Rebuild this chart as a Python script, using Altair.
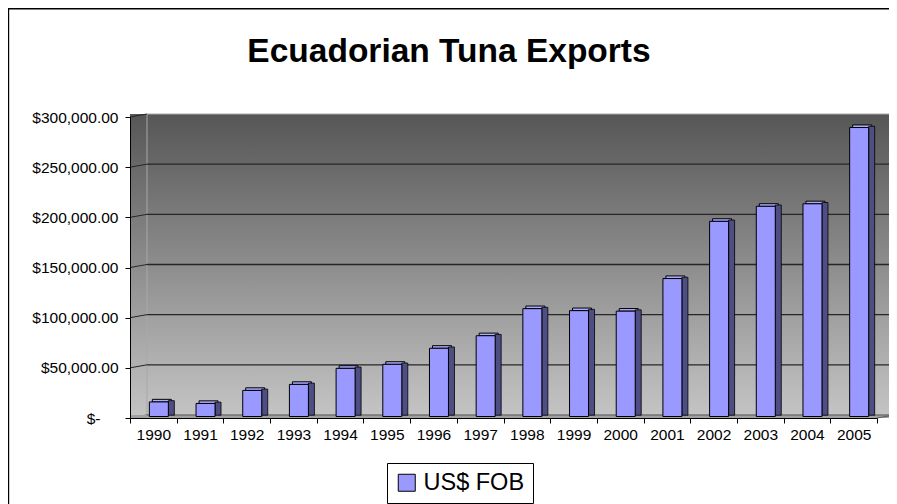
import altair as alt
import pandas as pd

# ---- data ----
years = [str(y) for y in range(1990, 2006)]
exports = [14500, 13000, 26000, 32000, 48000, 52000, 68000, 80500,
           107500, 105500, 105000, 137500, 194500, 209500, 212000, 288000]
series_name = "US$ FOB"
tick_values = [0, 50000, 100000, 150000, 200000, 250000, 300000]
grid_values = [50000, 100000, 150000, 200000, 250000]
title_text = "Ecuadorian Tuna Exports"

FONT = "Liberation Sans"
W, H = 747, 301          # front plot area
DX, DY = 17, 3           # 3-D depth offset (px)
PAD = {"left": 122, "top": 109, "right": 12, "bottom": 86}

df = pd.DataFrame({"year": years, "value": exports, "series": series_name})
df["capTop"] = df["value"] + 2600
tick_df = pd.DataFrame({"v": tick_values})
grid_df = pd.DataFrame({"v": grid_values})
one = pd.DataFrame({"k": [0]})

yscale = alt.Scale(domain=[0, 300000], nice=False, zero=True)
xscale = alt.Scale(domain=years, paddingInner=0, paddingOuter=0)

xaxis = alt.Axis(tickBand="extent", labelAngle=0, tickSize=5, labelPadding=4,
                 labelFontSize=15.5, labelFont=FONT, labelColor="black",
                 domainColor="black", tickColor="black", title=None, grid=False, zindex=1)
yaxis = alt.Axis(values=tick_values,
                 labelExpr="datum.value == 0 ? '$-' : '$' + format(datum.value, ',.2f')",
                 tickSize=5,
                 labelPadding={"condition": {"test": "datum.value === 0", "value": 25}, "value": 7},
                 labelFontSize=15.5, labelFont=FONT,
                 labelColor="black", domainColor="black", tickColor="black",
                 title=None, grid=False, zindex=1)

grad = alt.LinearGradient(
    gradient="linear",
    stops=[alt.GradientStop(color="#565656", offset=0),
           alt.GradientStop(color="#c4c4c4", offset=1)],
    x1=0, x2=0, y1=0, y2=1,
)

# outer chart frame (top & left edges visible in the reference)
frame_top = alt.Chart(one).mark_rule(color="black", strokeWidth=1.5).encode(
    x=alt.value(-PAD["left"]), x2=alt.value(W + PAD["right"]), y=alt.value(-108.2))
frame_left = alt.Chart(one).mark_rule(color="black", strokeWidth=1.2).encode(
    x=alt.value(-PAD["left"] + 0.6), y=alt.value(-PAD["top"]), y2=alt.value(H + PAD["bottom"]))

# walls
side_wall = alt.Chart(one).mark_rect(fill=grad).encode(
    x=alt.value(0), x2=alt.value(DX), y=alt.value(-DY), y2=alt.value(H))
back_wall = alt.Chart(one).mark_rect(fill=grad, stroke="#a8a8a8", strokeWidth=1).encode(
    x=alt.value(DX), x2=alt.value(W + DX), y=alt.value(-DY), y2=alt.value(H - DY))

grid = alt.Chart(grid_df).mark_rule(color="#262626", strokeWidth=1.3, yOffset=-DY).encode(
    x=alt.value(DX), x2=alt.value(W + DX),
    y=alt.Y("v:Q", scale=yscale, axis=yaxis))

diag = alt.Chart(tick_df).transform_calculate(v2="datum.v + 3000").mark_rule(
    color="#262626", strokeWidth=1).encode(
    x=alt.value(0), x2=alt.value(DX),
    y=alt.Y("v:Q", scale=yscale, axis=yaxis), y2="v2:Q")

floor = alt.Chart(one).mark_rect(fill="#a0a0a0").encode(
    x=alt.value(0), x2=alt.value(W + DX), y=alt.value(H - DY), y2=alt.value(H))
floor_back = alt.Chart(one).mark_rule(color="#5a5a5a").encode(
    x=alt.value(DX), x2=alt.value(W + DX), y=alt.value(H - DY))
floor_right = alt.Chart(one).mark_rule(color="#5a5a5a").encode(
    x=alt.value(W), x2=alt.value(W + DX), y=alt.value(H), y2=alt.value(H - DY))

# bars
base = alt.Chart(df)
XO = 5.5
X = alt.X("year:N", scale=xscale, sort=years, axis=xaxis)
cap = base.mark_bar(width=19, xOffset=XO + 3, x2Offset=XO + 3, yOffset=-1.5, y2Offset=-1.5,
                    fill="#adadff", stroke="black", strokeWidth=1).encode(
    x=X, y=alt.Y("value:Q", scale=yscale, axis=yaxis), y2="capTop:Q")
side = base.mark_bar(width=6, xOffset=XO + 12.5, x2Offset=XO + 12.5, yOffset=-2.8, y2Offset=-2.8,
                     fill="#4e4e84", stroke="black", strokeWidth=0.8).encode(
    x=X, y=alt.Y("value:Q", scale=yscale, axis=yaxis))
front = base.mark_bar(width=19, xOffset=XO, x2Offset=XO, yOffset=-1.5, y2Offset=-1.5,
                      stroke="black", strokeWidth=1, opacity=1).encode(
    x=X,
    y=alt.Y("value:Q", scale=yscale, axis=yaxis),
    color=alt.Color("series:N",
                    scale=alt.Scale(domain=[series_name], range=["#9999ff"]),
                    legend=alt.Legend(orient="none", legendX=257, legendY=346, title=None,
                                      fillColor="white", strokeColor="black", padding=8,
                                      labelFontSize=23.5, labelFont=FONT, labelColor="black",
                                      symbolType="square", symbolSize=289,
                                      symbolStrokeColor="black", symbolStrokeWidth=1,
                                      labelOffset=5, symbolOpacity=1)))

title = alt.Chart(one).mark_text(text=title_text, fontSize=33.5, fontWeight="bold", font=FONT,
                                 align="center", baseline="alphabetic", color="black").encode(
    x=alt.value(319), y=alt.value(-55.3))

chart = alt.layer(
    frame_top, frame_left, side_wall, back_wall, grid, diag, floor, floor_back, floor_right,
    cap, side, front, title,
).properties(
    width=W, height=H,
    autosize=alt.AutoSizeParams(type="none"),
    padding=PAD,
).configure(background="white").configure_view(stroke=None)

chart.save("out.html", embed_options={"renderer": "svg", "actions": False})
